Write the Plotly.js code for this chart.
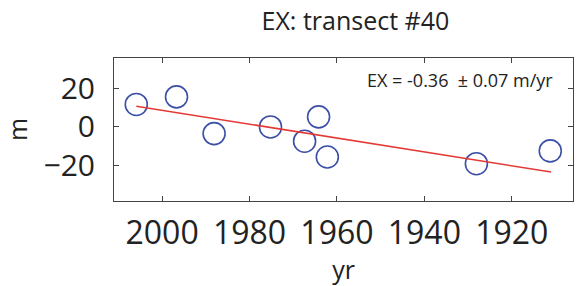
<!DOCTYPE html>
<html>
<head>
<meta charset="utf-8">
<script src="https://cdn.plot.ly/plotly-3.0.1.min.js"></script>
<style>
  html, body { margin: 0; padding: 0; background: #fff; }
  #chart { width: 578px; height: 286px; }
</style>
</head>
<body>
<div id="chart"></div>
<script>
// Observations (year, shoreline position in m)
const years = [2005.9, 1996.7, 1988.1, 1975.2, 1967.4, 1964.2, 1962.2, 1928.1, 1911.2];
const positions = [11.8, 15.8, -3.5, 0.0, -7.5, 5.3, -15.8, -19.3, -12.6];

// Fitted trend line endpoints
const trendYears = [2005.9, 1911.0];
const trendValues = [10.9, -23.7];

// Tick values / labels
const xTicks = [2000, 1980, 1960, 1940, 1920];
const yTicks = [20, 0, -20];

const titleText = 'EX: transect #40';
const rateText = 'EX = -0.36  \u00B1 0.07 m/yr';

const FONT = '"Open Sans", "Noto Sans", "DejaVu Sans", sans-serif';

const traces = [
  {
    x: years, y: positions, type: 'scatter', mode: 'markers',
    marker: { symbol: 'circle-open', size: 22, color: '#3b4fa6', line: { width: 1.6, color: '#3b4fa6' } },
    hoverinfo: 'skip', showlegend: false
  },
  {
    x: trendYears, y: trendValues, type: 'scatter', mode: 'lines',
    line: { color: '#e53935', width: 1.5 },
    hoverinfo: 'skip', showlegend: false
  }
];

const layout = {
  width: 578, height: 286,
  margin: { l: 114, r: 5, t: 58, b: 85, pad: 0 },
  paper_bgcolor: '#fff', plot_bgcolor: '#fff',
  font: { family: FONT, color: '#222' },
  showlegend: false,
  title: {
    text: titleText,
    font: { family: FONT, size: 25, color: '#222' },
    x: 0.526, xref: 'paper', xanchor: 'center',
    y: 0.925, yref: 'container', yanchor: 'middle'
  },
  xaxis: {
    range: [2011, 1906],
    tickvals: xTicks,
    ticktext: xTicks.map(String),
    ticks: 'inside', ticklen: 5, tickcolor: '#444', tickwidth: 1,
    showline: true, linecolor: '#444', linewidth: 1, mirror: 'ticks',
    showgrid: false, zeroline: false,
    tickfont: { family: FONT, size: 32, color: '#222' },
    ticklabelstandoff: 4,
    title: { text: 'yr', font: { family: FONT, size: 25, color: '#222' }, standoff: 3 }
  },
  yaxis: {
    range: [-38.9, 36.2],
    tickvals: yTicks,
    ticktext: yTicks.map(v => v < 0 ? '\u2212' + Math.abs(v) : String(v)),
    ticks: 'inside', ticklen: 5, tickcolor: '#444', tickwidth: 1,
    showline: true, linecolor: '#444', linewidth: 1, mirror: 'ticks',
    showgrid: false, zeroline: false,
    tickfont: { family: FONT, size: 30, color: '#222' },
    ticklabelstandoff: 12,
    title: { text: 'm', font: { family: FONT, size: 25, color: '#222' }, standoff: 8 }
  },
  annotations: [
    {
      text: rateText, showarrow: false,
      xref: 'paper', yref: 'paper', x: 0.961, y: 0.846,
      xanchor: 'right', yanchor: 'middle',
      font: { family: FONT, size: 18, color: '#222' }
    }
  ]
};

Plotly.newPlot('chart', traces, layout, { staticPlot: true, displayModeBar: false });
</script>
</body>
</html>
